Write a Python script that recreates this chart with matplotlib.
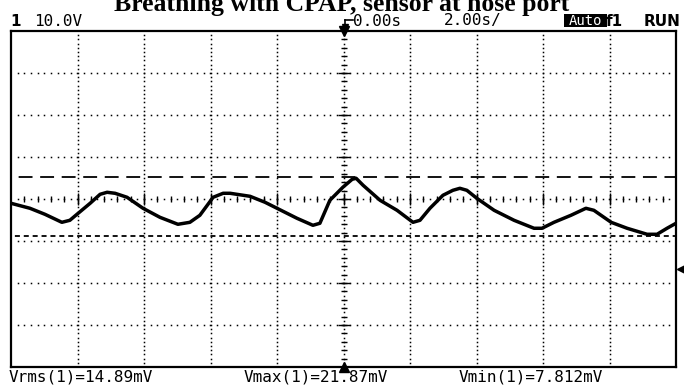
import matplotlib
matplotlib.use("Agg")
import matplotlib.pyplot as plt
import matplotlib.transforms as mtransforms
from matplotlib.patches import Rectangle
from matplotlib.lines import Line2D
import numpy as np

plt.rcParams['lines.scale_dashes'] = False

# Scope settings
volts_per_div = 10.0      # mV / div
sec_per_div = 2.0         # s / div
screen_center_mv = 16.7   # channel offset (mV at screen centre)

# Channel 1 trace (time in s, signal in mV)
time_s = [-10.00, -9.43, -8.98, -8.47, -8.23, -7.98, -7.62, -7.32, -7.11, -6.87,
          -6.51, -6.03, -5.52, -4.98, -4.62, -4.32, -3.92, -3.62, -3.41, -2.81,
          -2.36, -2.00, -1.40, -0.92, -0.71, -0.41, -0.02, 0.26, 0.38, 0.59,
          1.10, 1.61, 2.09, 2.30, 2.60, 2.99, 3.29, 3.50, 3.71, 4.01,
          4.53, 5.13, 5.73, 5.97, 6.33, 6.84, 7.29, 7.53, 8.05, 8.53,
          9.13, 9.43, 9.73, 10.00]
trace_mv = [15.68, 14.49, 13.06, 11.15, 11.63, 13.30, 15.68, 17.82, 18.30, 18.06,
            17.11, 14.49, 12.34, 10.68, 11.15, 12.82, 17.11, 18.06, 18.06, 17.34,
            15.92, 14.49, 12.11, 10.44, 10.92, 16.39, 19.49, 21.39, 21.63, 19.96,
            16.39, 14.01, 11.15, 11.63, 14.49, 17.58, 18.77, 19.25, 18.77, 16.87,
            14.01, 11.63, 9.73, 9.73, 11.15, 12.82, 14.49, 14.01, 11.15, 9.73,
            8.30, 8.30, 9.73, 10.92]

# Measurements
v_rms = 14.89
v_max = 21.87
v_min = 7.812

W, H = 684, 385
fig = plt.figure(figsize=(W / 100, H / 100), dpi=100)
fig.patch.set_facecolor('white')


def fx(px):
    return px / W


def fy(py):
    return 1 - py / H


ax = fig.add_axes([fx(11), fy(367), (676 - 11) / W, (367 - 31) / H])
ax.set_xlim(-5 * sec_per_div, 5 * sec_per_div)
ax.set_ylim(screen_center_mv - 4 * volts_per_div, screen_center_mv + 4 * volts_per_div)
ax.set_xticks([])
ax.set_yticks([])
for sp in ax.spines.values():
    sp.set_linewidth(1.6)
    sp.set_color('black')


def xdiv(d):
    return np.asarray(d) * sec_per_div


def ydiv(d):
    return screen_center_mv + np.asarray(d) * volts_per_div


dot = dict(ls='none', marker='s', ms=1.1, mew=0, color='black', clip_on=True)

# Dotted graticule
fine_y = np.arange(-4, 4.001, 0.1)[1:-1]
fine_x = np.arange(-5, 5.001, 0.1)[1:-1]
for d in range(-4, 5):
    if d == 0:
        continue
    ax.plot(np.full_like(fine_y, xdiv(d)), ydiv(fine_y), **dot)
for d in range(-3, 4):
    if d == 0:
        continue
    ax.plot(xdiv(fine_x), np.full_like(fine_x, ydiv(d)), **dot)

# Centre cross with minor ticks
ax.plot(xdiv(fine_x), np.full_like(fine_x, ydiv(0)), **dot)
ax.plot(np.full_like(fine_y, xdiv(0)), ydiv(fine_y), **dot)
tick_x = np.arange(-5, 5.001, 0.2)[1:-1]
tick_y = np.arange(-4, 4.001, 0.2)[1:-1]
ax.plot(xdiv(tick_x), np.full_like(tick_x, ydiv(0)), ls='none', marker='|',
        ms=4.5, mew=1.0, color='black')
ax.plot(xdiv(np.arange(-4, 5)), np.full(9, ydiv(0)), ls='none', marker='|',
        ms=8, mew=1.0, color='black')
ax.plot(np.full_like(tick_y, xdiv(0)), ydiv(tick_y), ls='none', marker='_',
        ms=4.5, mew=1.0, color='black')
ax.plot(np.full(7, xdiv(0)), ydiv(np.arange(-3, 4)), ls='none', marker='_',
        ms=8, mew=1.0, color='black')

# Cursors at Vmax / Vmin
ax.axhline(v_max, color='black', lw=1.3, ls=(10, (10, 5.5)))
ax.axhline(v_min, color='black', lw=1.3, ls=(3.6, (3.6, 2.8)))

# Trace
ax.plot(time_s, trace_mv, color='black', lw=2.5, solid_joinstyle='round')

# Trigger markers
ax.plot([0], [ydiv(4)], marker='v', ms=7, color='black', clip_on=False)
ax.plot([0], [ydiv(-4)], marker='^', ms=7, color='black', clip_on=False)
gnd_tr = mtransforms.blended_transform_factory(ax.transAxes, ax.transData)
ax.plot([1.0075], [0.0], marker='<', ms=6, color='black', clip_on=False,
        transform=gnd_tr)

# Title
fig.text(fx(342), fy(11), 'Breathing with CPAP, sensor at nose port',
         ha='center', va='baseline', fontsize=18.5, fontweight='bold',
         family='Liberation Serif')

# Status line
mono = dict(family='DejaVu Sans Mono', fontsize=11.5, va='center', color='black')
fig.text(fx(10), fy(22), '1', fontsize=11, fontweight='bold', family='DejaVu Sans',
         va='center')
fig.text(fx(34), fy(21), '10.0V', **mono)
fig.text(fx(353), fy(21), '0.00s', **mono)
fig.text(fx(444), fy(21), '2.00s/', **mono)
fig.add_artist(Line2D([fx(345), fx(353)], [fy(20), fy(20)], color='black', lw=1.2))
fig.add_artist(Line2D([fx(345), fx(345)], [fy(20), fy(27)], color='black', lw=1.2))
fig.add_artist(Line2D([fx(345)], [fy(27)], marker='v', ms=4, color='black'))
fig.add_artist(Rectangle((fx(564), fy(27)), (607 - 564) / W, 13 / H,
                         facecolor='black', edgecolor='none'))
fig.text(fx(585.5), fy(21), 'Auto', ha='center', color='white',
         family='DejaVu Sans Mono', fontsize=10, va='center')
fig.text(fx(606), fy(22), 'f1', family='DejaVu Sans', fontsize=11,
         fontweight='bold', va='center')
fig.text(fx(644), fy(22), 'RUN', family='DejaVu Sans', fontsize=11,
         fontweight='bold', va='center')

# Measurement readouts
fig.text(fx(9), fy(377), f'Vrms(1)={v_rms:.2f}mV', **mono)
fig.text(fx(244), fy(377), f'Vmax(1)={v_max:.2f}mV', **mono)
fig.text(fx(459), fy(377), f'Vmin(1)={v_min:.3f}mV', **mono)

fig.savefig('out.png', dpi=100)
